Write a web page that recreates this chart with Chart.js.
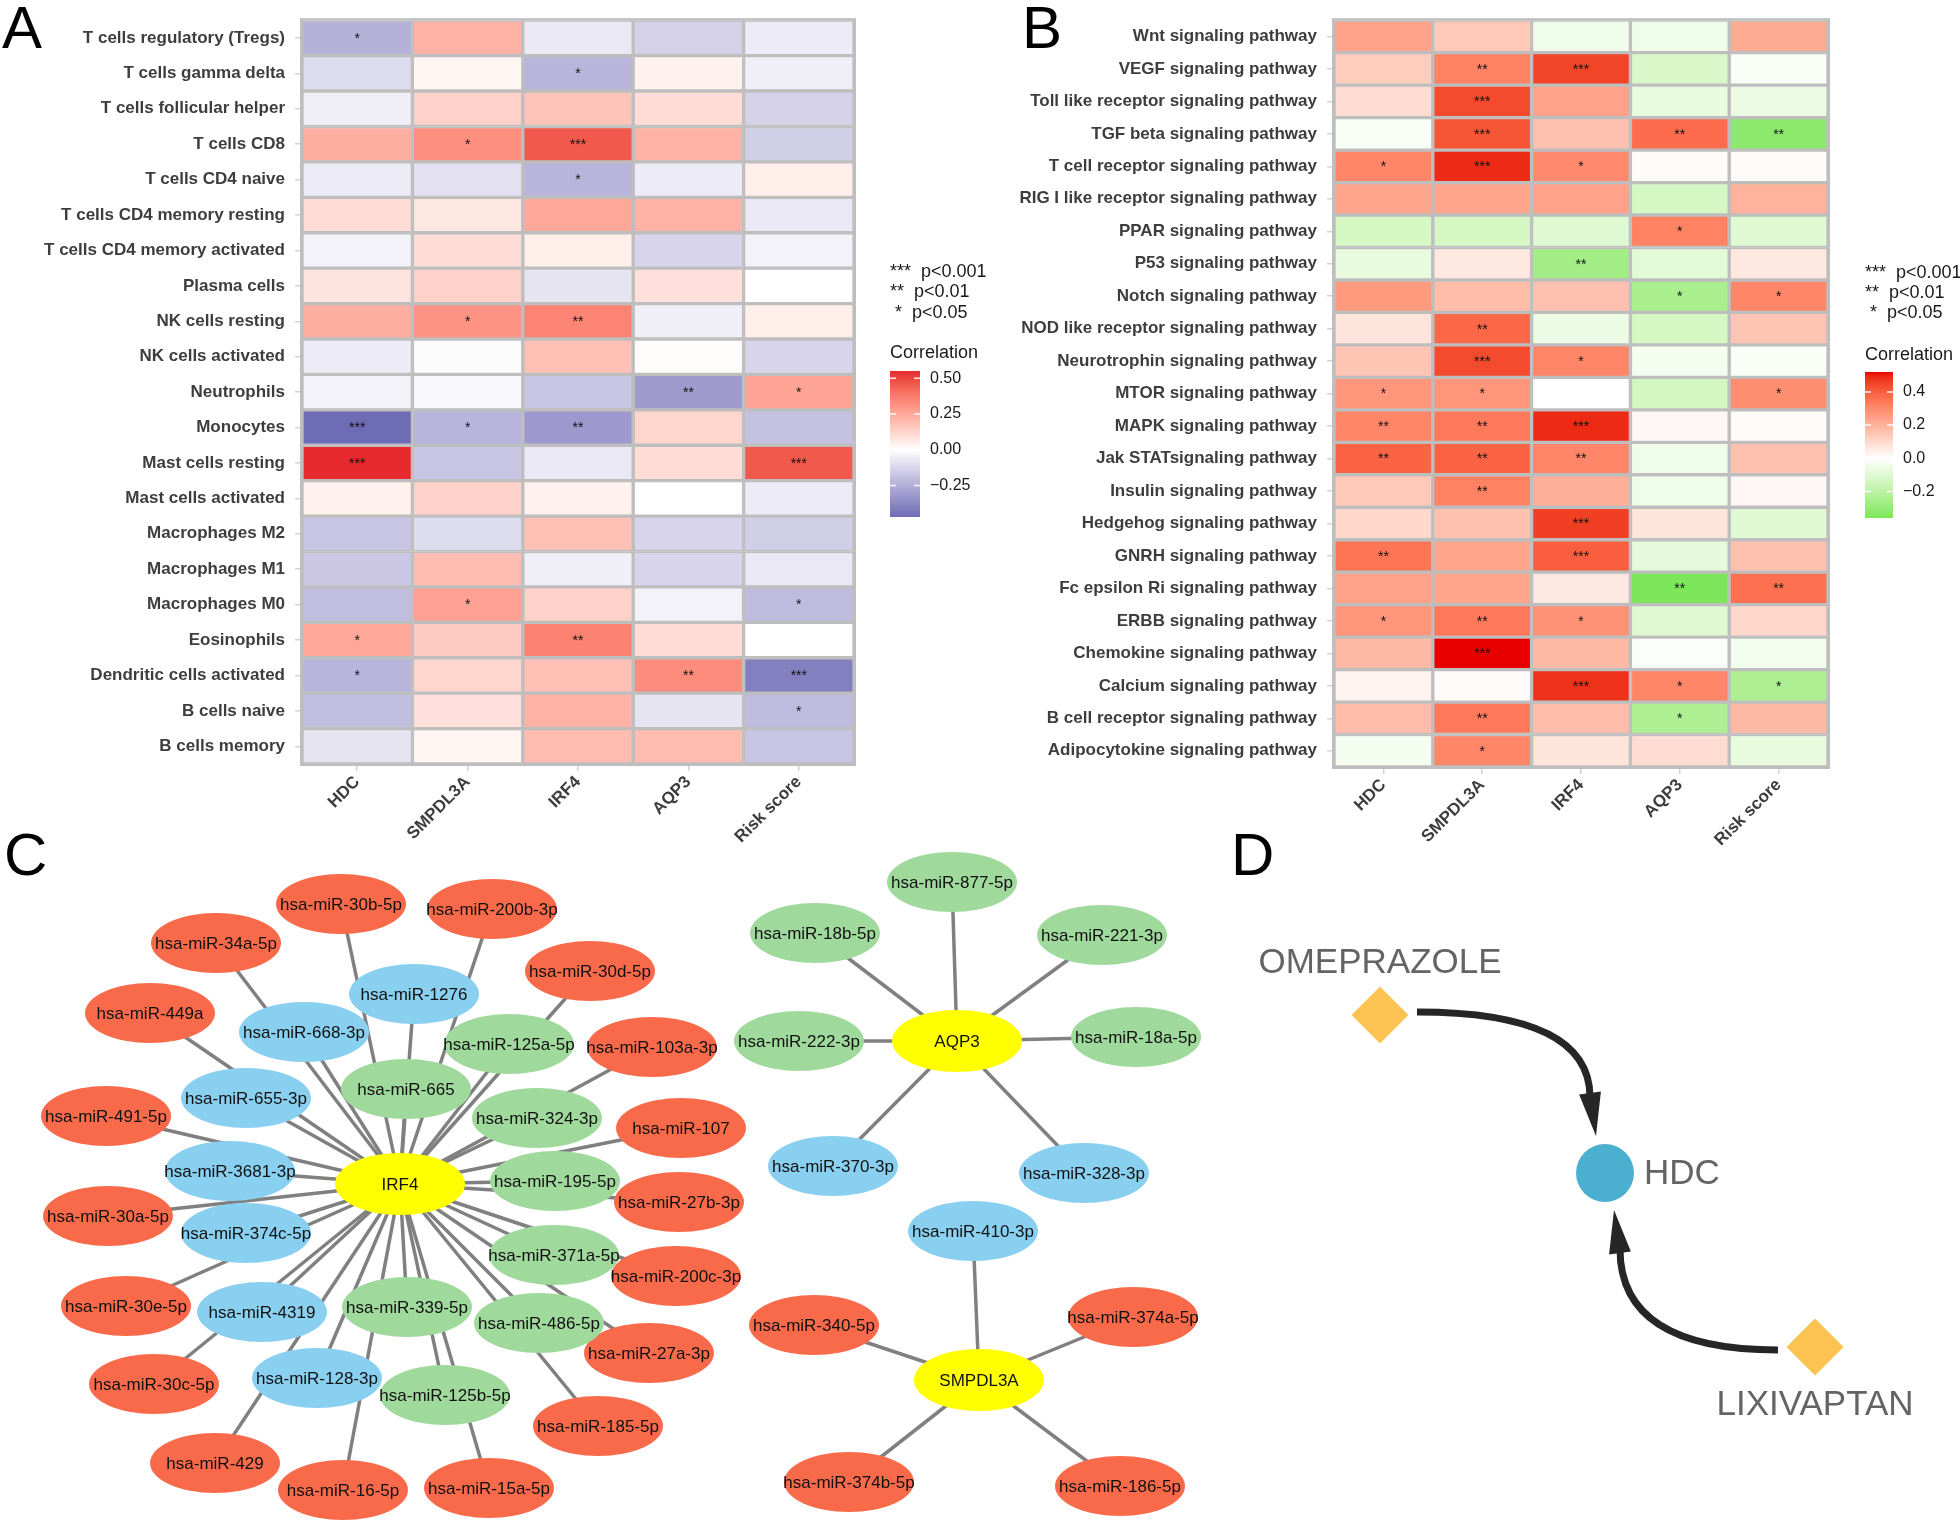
<!DOCTYPE html>
<html>
<head>
<meta charset="utf-8">
<title>Immune / pathway correlation and miRNA networks</title>
<script src="https://cdn.jsdelivr.net/npm/chart.js@4.4.1/dist/chart.umd.min.js"></script>
<style>
  html, body { margin: 0; padding: 0; background: #fff; }
  #page { position: relative; width: 1960px; height: 1527px; overflow: hidden; background: #fff; }
  canvas { position: absolute; }
</style>
</head>
<body>
<div id="page">
  <canvas id="chartA" width="1000" height="870" style="left:0;top:0"></canvas>
  <canvas id="chartB" width="960" height="870" style="left:1000px;top:0"></canvas>
  <canvas id="chartC" width="1230" height="707" style="left:0;top:820px"></canvas>
  <canvas id="chartD" width="730" height="707" style="left:1230px;top:820px"></canvas>
</div>
<script>
// ---- data: heatmap columns ----
const genes = ['HDC', 'SMPDL3A', 'IRF4', 'AQP3', 'Risk score'];

// Panel A: immune cells vs genes
const immuneCells = [
  'T cells regulatory (Tregs)', 'T cells gamma delta', 'T cells follicular helper', 'T cells CD8',
  'T cells CD4 naive', 'T cells CD4 memory resting', 'T cells CD4 memory activated', 'Plasma cells',
  'NK cells resting', 'NK cells activated', 'Neutrophils', 'Monocytes', 'Mast cells resting',
  'Mast cells activated', 'Macrophages M2', 'Macrophages M1', 'Macrophages M0', 'Eosinophils',
  'Dendritic cells activated', 'B cells naive', 'B cells memory'
];
const immuneCorr = [
  [-0.24, 0.22, -0.07, -0.14, -0.06],
  [-0.11, 0.03, -0.23, 0.04, -0.05],
  [-0.05, 0.13, 0.17, 0.10, -0.14],
  [0.23, 0.32, 0.46, 0.22, -0.15],
  [-0.06, -0.09, -0.23, -0.06, 0.05],
  [0.10, 0.07, 0.25, 0.22, -0.07],
  [-0.04, 0.10, 0.05, -0.13, -0.04],
  [0.08, 0.13, -0.08, 0.09, 0.00],
  [0.23, 0.31, 0.35, -0.05, 0.05],
  [-0.06, -0.01, 0.18, 0.01, -0.13],
  [-0.04, -0.02, -0.18, -0.31, 0.26],
  [-0.47, -0.23, -0.32, 0.12, -0.19],
  [0.55, -0.18, -0.07, 0.10, 0.46],
  [0.04, 0.13, 0.04, 0.00, -0.06],
  [-0.18, -0.11, 0.18, -0.13, -0.15],
  [-0.17, 0.19, -0.05, -0.13, -0.07],
  [-0.20, 0.27, 0.13, -0.04, -0.21],
  [0.25, 0.15, 0.36, 0.10, 0.00],
  [-0.23, 0.12, 0.18, 0.33, -0.40],
  [-0.20, 0.09, 0.22, -0.08, -0.21],
  [-0.08, 0.03, 0.19, 0.19, -0.18]
];
const immuneSig = [
  ['*', '', '', '', ''], ['', '', '*', '', ''], ['', '', '', '', ''], ['', '*', '***', '', ''],
  ['', '', '*', '', ''], ['', '', '', '', ''], ['', '', '', '', ''], ['', '', '', '', ''],
  ['', '*', '**', '', ''], ['', '', '', '', ''], ['', '', '', '**', '*'], ['***', '*', '**', '', ''],
  ['***', '', '', '', '***'], ['', '', '', '', ''], ['', '', '', '', ''], ['', '', '', '', ''],
  ['', '*', '', '', '*'], ['*', '', '**', '', ''], ['*', '', '', '**', '***'], ['', '', '', '', '*'],
  ['', '', '', '', '']
];
const immuneTicks = [0.5, 0.25, 0, -0.25];

// Panel B: KEGG pathways vs genes
const pathways = [
  'Wnt signaling pathway', 'VEGF signaling pathway', 'Toll like receptor signaling pathway',
  'TGF beta signaling pathway', 'T cell receptor signaling pathway', 'RIG I like receptor signaling pathway',
  'PPAR signaling pathway', 'P53 signaling pathway', 'Notch signaling pathway',
  'NOD like receptor signaling pathway', 'Neurotrophin signaling pathway', 'MTOR signaling pathway',
  'MAPK signaling pathway', 'Jak STATsignaling pathway', 'Insulin signaling pathway',
  'Hedgehog signaling pathway', 'GNRH signaling pathway', 'Fc epsilon Ri signaling pathway',
  'ERBB signaling pathway', 'Chemokine signaling pathway', 'Calcium signaling pathway',
  'B cell receptor signaling pathway', 'Adipocytokine signaling pathway'
];
const pathwayCorr = [
  [0.24, 0.14, -0.05, -0.05, 0.22],
  [0.13, 0.32, 0.45, -0.12, -0.02],
  [0.09, 0.44, 0.24, -0.07, -0.06],
  [-0.02, 0.42, 0.16, 0.37, -0.32],
  [0.31, 0.49, 0.30, 0.01, 0.01],
  [0.23, 0.23, 0.24, -0.13, 0.20],
  [-0.13, -0.13, -0.10, 0.32, -0.10],
  [-0.07, 0.06, -0.27, -0.09, 0.06],
  [0.26, 0.17, 0.16, -0.25, 0.31],
  [0.07, 0.38, -0.06, -0.13, 0.15],
  [0.15, 0.44, 0.31, -0.03, -0.02],
  [0.27, 0.27, 0.00, -0.14, 0.29],
  [0.31, 0.34, 0.49, 0.02, 0.01],
  [0.39, 0.39, 0.31, -0.05, 0.16],
  [0.14, 0.32, 0.21, -0.05, 0.02],
  [0.10, 0.16, 0.46, 0.07, -0.10],
  [0.35, 0.23, 0.40, -0.08, 0.16],
  [0.24, 0.23, 0.06, -0.36, 0.36],
  [0.27, 0.34, 0.28, -0.10, 0.10],
  [0.18, 0.52, 0.18, -0.01, -0.04],
  [0.03, 0.01, 0.48, 0.31, -0.24],
  [0.17, 0.34, 0.17, -0.24, 0.18],
  [-0.03, 0.31, 0.07, 0.09, -0.07]
];
const pathwaySig = [
  ['', '', '', '', ''], ['', '**', '***', '', ''], ['', '***', '', '', ''], ['', '***', '', '**', '**'],
  ['*', '***', '*', '', ''], ['', '', '', '', ''], ['', '', '', '*', ''], ['', '', '**', '', ''],
  ['', '', '', '*', '*'], ['', '**', '', '', ''], ['', '***', '*', '', ''], ['*', '*', '', '', '*'],
  ['**', '**', '***', '', ''], ['**', '**', '**', '', ''], ['', '**', '', '', ''], ['', '', '***', '', ''],
  ['**', '', '***', '', ''], ['', '', '', '**', '**'], ['*', '**', '*', '', ''], ['', '***', '', '', ''],
  ['', '', '***', '*', '*'], ['', '**', '', '*', ''], ['', '*', '', '', '']
];
const pathwayTicks = [0.4, 0.2, 0, -0.2];

// Panel C: miRNA - mRNA network (layout coordinates)
const hubNames = ['IRF4', 'AQP3', 'SMPDL3A'];
const hubX = [400, 957, 979];
const hubY = [1184, 1041, 1380];
const mirNames = [
  'hsa-miR-30b-5p', 'hsa-miR-200b-3p', 'hsa-miR-34a-5p', 'hsa-miR-30d-5p', 'hsa-miR-449a',
  'hsa-miR-103a-3p', 'hsa-miR-491-5p', 'hsa-miR-107', 'hsa-miR-30a-5p', 'hsa-miR-27b-3p',
  'hsa-miR-30e-5p', 'hsa-miR-200c-3p', 'hsa-miR-27a-3p', 'hsa-miR-30c-5p', 'hsa-miR-185-5p',
  'hsa-miR-429', 'hsa-miR-16-5p', 'hsa-miR-15a-5p',
  'hsa-miR-1276', 'hsa-miR-668-3p', 'hsa-miR-655-3p', 'hsa-miR-3681-3p', 'hsa-miR-374c-5p',
  'hsa-miR-4319', 'hsa-miR-128-3p',
  'hsa-miR-665', 'hsa-miR-125a-5p', 'hsa-miR-324-3p', 'hsa-miR-195-5p', 'hsa-miR-371a-5p',
  'hsa-miR-486-5p', 'hsa-miR-339-5p', 'hsa-miR-125b-5p',
  'hsa-miR-877-5p', 'hsa-miR-18b-5p', 'hsa-miR-221-3p', 'hsa-miR-222-3p', 'hsa-miR-18a-5p',
  'hsa-miR-370-3p', 'hsa-miR-328-3p',
  'hsa-miR-410-3p', 'hsa-miR-340-5p', 'hsa-miR-374a-5p', 'hsa-miR-374b-5p', 'hsa-miR-186-5p'
];
const mirHub = [
  0, 0, 0, 0, 0, 0, 0, 0, 0, 0, 0, 0, 0, 0, 0, 0, 0, 0,
  0, 0, 0, 0, 0, 0, 0,
  0, 0, 0, 0, 0, 0, 0, 0,
  1, 1, 1, 1, 1, 1, 1,
  2, 2, 2, 2, 2
];
const mirGroup = [
  0, 0, 0, 0, 0, 0, 0, 0, 0, 0, 0, 0, 0, 0, 0, 0, 0, 0,
  1, 1, 1, 1, 1, 1, 1,
  2, 2, 2, 2, 2, 2, 2, 2,
  2, 2, 2, 2, 2, 1, 1,
  1, 0, 0, 0, 0
];
const mirX = [
  341, 492, 216, 590, 150, 652, 106, 681, 108, 679, 126, 676, 649, 154, 598, 215, 343, 489,
  414, 304, 246, 230, 246, 262, 317,
  406, 509, 537, 555, 554, 539, 407, 445,
  952, 815, 1102, 799, 1136, 833, 1084,
  973, 814, 1133, 849, 1120
];
const mirY = [
  904, 909, 943, 971, 1013, 1047, 1116, 1128, 1216, 1202, 1306, 1276, 1353, 1384, 1426, 1463, 1490, 1488,
  994, 1032, 1098, 1171, 1233, 1312, 1378,
  1089, 1044, 1118, 1181, 1255, 1323, 1307, 1395,
  882, 933, 935, 1041, 1037, 1166, 1173,
  1231, 1325, 1317, 1482, 1486
];

// Panel D: drug - gene network
const drugNames = ['OMEPRAZOLE', 'LIXIVAPTAN'];
const drugX = [1380, 1815];
const drugY = [1015, 1347];
const targetNames = ['HDC'];
const targetX = [1605];
const targetY = [1173];

// ---- styling ----
const FONT = '"Liberation Sans", Arial, Helvetica, sans-serif';
Chart.defaults.font.family = FONT;
const groupFill = ['#F96A4B', '#89CFF0', '#A0D99C'];
const hubFill = '#FFFF00';
const sigLegend = ['***  p<0.001', '**  p<0.01', ' *  p<0.05'];

// colour helpers: ggplot-like gradient2 interpolated in CIELAB
function hexToRgb(h) {
  const n = parseInt(h.slice(1), 16);
  return [(n >> 16) & 255, (n >> 8) & 255, n & 255];
}
function rgbToLab(rgb) {
  const lin = c => { c /= 255; return c <= 0.04045 ? c / 12.92 : Math.pow((c + 0.055) / 1.055, 2.4); };
  const [r, g, b] = rgb.map(lin);
  const f = t => t > 0.008856 ? Math.cbrt(t) : 7.787 * t + 16 / 116;
  const X = f((r * 0.4124 + g * 0.3576 + b * 0.1805) / 0.95047);
  const Y = f(r * 0.2126 + g * 0.7152 + b * 0.0722);
  const Z = f((r * 0.0193 + g * 0.1192 + b * 0.9505) / 1.08883);
  return [116 * Y - 16, 500 * (X - Y), 200 * (Y - Z)];
}
function labToCss(lab) {
  const [L, a, bb] = lab;
  const fy = (L + 16) / 116, fx = a / 500 + fy, fz = fy - bb / 200;
  const inv = t => { const t3 = t * t * t; return t3 > 0.008856 ? t3 : (t - 16 / 116) / 7.787; };
  const X = inv(fx) * 0.95047, Y = inv(fy), Z = inv(fz) * 1.08883;
  const r = X * 3.2406 - Y * 1.5372 - Z * 0.4986;
  const g = -X * 0.9689 + Y * 1.8758 + Z * 0.0415;
  const b = X * 0.0557 - Y * 0.2040 + Z * 1.0570;
  const gam = c => {
    c = c > 0.0031308 ? 1.055 * Math.pow(c, 1 / 2.4) - 0.055 : 12.92 * c;
    return Math.round(Math.max(0, Math.min(1, c)) * 255);
  };
  return `rgb(${gam(r)},${gam(g)},${gam(b)})`;
}
function divergingScale(low, high, vmin, vmax) {
  const lo = rgbToLab(hexToRgb(low)), hi = rgbToLab(hexToRgb(high)), w = rgbToLab([255, 255, 255]);
  return v => {
    const end = v < 0 ? lo : hi;
    const t = Math.min(1, v < 0 ? v / vmin : v / vmax);
    return labToCss(w.map((c, k) => c + (end[k] - c) * t));
  };
}

function drawLetter(ctx, txt, x, y) {
  ctx.save();
  ctx.fillStyle = '#000';
  ctx.font = `60px ${FONT}`;
  ctx.textAlign = 'left';
  ctx.textBaseline = 'alphabetic';
  ctx.fillText(txt, x, y);
  ctx.restore();
}

// ---- heatmaps (panels A and B) ----
function buildHeatmap(id, rows, corr, sig, low, high, ticks, decimals, lay) {
  const el = document.getElementById(id);
  const all = corr.flat();
  const vmin = Math.min(...all), vmax = Math.max(...all);
  const colorOf = divergingScale(low, high, vmin, vmax);
  const axisFont = size => ({ family: FONT, size: size, weight: 'bold' });

  const decor = {
    id: 'decor' + id,
    afterDatasetsDraw(chart) {
      const ctx = chart.ctx, area = chart.chartArea;
      ctx.save();
      ctx.strokeStyle = '#BEBEBE';
      ctx.lineWidth = 2;
      ctx.strokeRect(area.left - 1, area.top - 1, area.right - area.left + 2, area.bottom - area.top + 2);
      ctx.fillStyle = '#111';
      ctx.font = `14px ${FONT}`;
      ctx.textAlign = 'center';
      ctx.textBaseline = 'middle';
      genes.forEach((g, j) => {
        chart.getDatasetMeta(j).data.forEach((bar, i) => {
          if (sig[i][j]) ctx.fillText(sig[i][j], (bar.x + bar.base) / 2, bar.y + 1);
        });
      });
      ctx.restore();
    },
    afterDraw(chart) {
      const ctx = chart.ctx, lg = lay.legend;
      ctx.save();
      ctx.fillStyle = '#1a1a1a';
      ctx.font = `18px ${FONT}`;
      ctx.textAlign = 'left';
      ctx.textBaseline = 'middle';
      sigLegend.forEach((t, k) => ctx.fillText(t, lg.x, lg.starsY[k]));
      ctx.fillText('Correlation', lg.x, lg.titleY);
      const span = lg.barBottom - lg.barTop;
      for (let y = lg.barTop; y < lg.barBottom; y++) {
        ctx.fillStyle = colorOf(vmax - (y + 0.5 - lg.barTop) / span * (vmax - vmin));
        ctx.fillRect(lg.x, y, lg.barW, 1);
      }
      ctx.font = `16px ${FONT}`;
      ticks.forEach(t => {
        const y = lg.barBottom - (t - vmin) / (vmax - vmin) * span;
        ctx.strokeStyle = 'rgba(255,255,255,0.9)';
        ctx.lineWidth = 1.5;
        ctx.beginPath();
        ctx.moveTo(lg.x, y); ctx.lineTo(lg.x + 6, y);
        ctx.moveTo(lg.x + lg.barW - 6, y); ctx.lineTo(lg.x + lg.barW, y);
        ctx.stroke();
        ctx.fillStyle = '#1a1a1a';
        ctx.fillText(t.toFixed(decimals).replace('-', '\u2212'), lg.x + lg.barW + 10, y);
      });
      ctx.restore();
      drawLetter(ctx, lay.letter, lay.letterX, 48);
    }
  };

  return new Chart(el, {
    type: 'bar',
    data: {
      labels: rows,
      datasets: genes.map((g, j) => ({
        label: g,
        data: rows.map(() => 1),
        backgroundColor: rows.map((r, i) => colorOf(corr[i][j])),
        borderColor: '#BEBEBE',
        borderWidth: 2,
        borderSkipped: false,
        barPercentage: 1,
        categoryPercentage: 1
      }))
    },
    options: {
      indexAxis: 'y',
      responsive: false,
      animation: false,
      events: [],
      layout: { autoPadding: false, padding: { top: lay.top, right: el.width - lay.right, left: 0, bottom: 0 } },
      plugins: { legend: { display: false }, tooltip: { enabled: false } },
      scales: {
        x: {
          stacked: true,
          min: 0,
          max: genes.length,
          afterBuildTicks: s => { s.ticks = genes.map((g, j) => ({ value: j + 0.5 })); },
          afterFit: s => { s.height = el.height - lay.bottom; },
          ticks: {
            autoSkip: false, minRotation: 45, maxRotation: 45, padding: 1,
            color: '#3d3d3d', font: axisFont(17),
            callback: (v, i) => genes[i]
          },
          grid: { drawOnChartArea: false, tickLength: 7, color: '#D3D3D3', lineWidth: 1.5 },
          border: { display: false }
        },
        y: {
          stacked: true,
          afterFit: s => { s.width = lay.left; },
          ticks: { autoSkip: false, padding: 10, color: '#3d3d3d', font: axisFont(17) },
          grid: { drawOnChartArea: false, offset: false, tickLength: 7, color: '#D3D3D3', lineWidth: 1.5 },
          border: { display: false }
        }
      }
    },
    plugins: [decor]
  });
}

buildHeatmap('chartA', immuneCells, immuneCorr, immuneSig, '#6E6CB5', '#E62A2D', immuneTicks, 2, {
  left: 302, right: 854, top: 15, bottom: 764, letter: 'A', letterX: 2,
  legend: { x: 890, starsY: [272, 292, 313], titleY: 353, barTop: 371, barBottom: 517, barW: 30 }
});
buildHeatmap('chartB', pathways, pathwayCorr, pathwaySig, '#7BE659', '#E80000', pathwayTicks, 1, {
  left: 334, right: 828, top: 15, bottom: 767, letter: 'B', letterX: 22,
  legend: { x: 865, starsY: [273, 293, 313], titleY: 355, barTop: 372, barBottom: 518, barW: 28 }
});

// ---- panel C: miRNA network ----
const nodeLabels = {
  id: 'nodeLabels',
  afterDatasetsDraw(chart) {
    const ctx = chart.ctx;
    const meta = chart.getDatasetMeta(chart.data.datasets.length - 1);
    const hubCount = hubNames.length;
    ctx.save();
    mirNames.forEach((n, i) => {
      const p = meta.data[hubCount + i];
      ctx.fillStyle = groupFill[mirGroup[i]];
      ctx.beginPath();
      ctx.ellipse(p.x, p.y, 65, 30, 0, 0, Math.PI * 2);
      ctx.fill();
    });
    hubNames.forEach((n, h) => {
      const p = meta.data[h];
      ctx.fillStyle = hubFill;
      ctx.beginPath();
      ctx.ellipse(p.x, p.y, 65, 31, 0, 0, Math.PI * 2);
      ctx.fill();
    });
    ctx.fillStyle = '#111';
    ctx.font = `17px ${FONT}`;
    ctx.textAlign = 'center';
    ctx.textBaseline = 'middle';
    hubNames.concat(mirNames).forEach((n, i) => {
      const p = meta.data[i];
      ctx.fillText(n, p.x, p.y + 1);
    });
    ctx.restore();
    drawLetter(ctx, 'C', 4, 55);
  }
};

new Chart(document.getElementById('chartC'), {
  type: 'scatter',
  data: {
    datasets: mirNames.map((n, i) => ({
      data: [{ x: hubX[mirHub[i]], y: hubY[mirHub[i]] }, { x: mirX[i], y: mirY[i] }],
      showLine: true,
      borderColor: '#808080',
      borderWidth: 3.5,
      pointRadius: 0,
      clip: false
    })).concat([{
      data: hubNames.map((n, h) => ({ x: hubX[h], y: hubY[h] }))
        .concat(mirNames.map((n, i) => ({ x: mirX[i], y: mirY[i] }))),
      pointRadius: 0,
      clip: false
    }])
  },
  options: {
    responsive: false,
    animation: false,
    events: [],
    layout: { autoPadding: false, padding: 0 },
    plugins: { legend: { display: false }, tooltip: { enabled: false } },
    scales: {
      x: { type: 'linear', display: false, min: 0, max: 1230 },
      y: { type: 'linear', display: false, min: 820, max: 1527, reverse: true }
    }
  },
  plugins: [nodeLabels]
});

// ---- panel D: drug - gene interactions ----
const drugArrows = {
  id: 'drugArrows',
  beforeDatasetsDraw(chart) {
    const ctx = chart.ctx;
    const drugs = chart.getDatasetMeta(0).data, tgt = chart.getDatasetMeta(1).data[0];
    ctx.save();
    ctx.strokeStyle = '#262626';
    ctx.fillStyle = '#262626';
    ctx.lineWidth = 7;
    drugs.forEach(s => {
      const sx = Math.sign(tgt.x - s.x), sy = Math.sign(tgt.y - s.y);
      const start = { x: s.x + sx * 37, y: s.y - sy * 3 };
      const tip = { x: tgt.x - sx * 9, y: tgt.y - sy * 37 };
      const base = { x: tip.x - sx * 6, y: tip.y - sy * 43 };
      ctx.beginPath();
      ctx.moveTo(start.x, start.y);
      ctx.quadraticCurveTo(base.x, start.y, base.x, base.y + sy * 4);
      ctx.stroke();
      const dx = tip.x - base.x, dy = tip.y - base.y, len = Math.hypot(dx, dy);
      const nx = -dy / len * 11, ny = dx / len * 11;
      ctx.beginPath();
      ctx.moveTo(tip.x, tip.y);
      ctx.lineTo(base.x + nx, base.y + ny);
      ctx.lineTo(base.x - nx, base.y - ny);
      ctx.closePath();
      ctx.fill();
    });
    ctx.restore();
  },
  afterDatasetsDraw(chart) {
    const ctx = chart.ctx;
    const drugs = chart.getDatasetMeta(0).data, tgts = chart.getDatasetMeta(1).data;
    ctx.save();
    ctx.fillStyle = '#646464';
    ctx.font = `35px ${FONT}`;
    ctx.textBaseline = 'middle';
    ctx.textAlign = 'center';
    drugs.forEach((p, i) => {
      ctx.fillText(drugNames[i], p.x, p.y + (i === 0 ? -52 : 58));
    });
    ctx.textAlign = 'left';
    tgts.forEach((p, i) => ctx.fillText(targetNames[i], p.x + 39, p.y + 1));
    ctx.restore();
    drawLetter(ctx, 'D', 1, 55);
  }
};

new Chart(document.getElementById('chartD'), {
  type: 'scatter',
  data: {
    datasets: [{
      data: drugNames.map((n, i) => ({ x: drugX[i], y: drugY[i] })),
      pointStyle: 'rectRot',
      pointRadius: 28.5,
      backgroundColor: '#FCC352',
      borderWidth: 0,
      clip: false
    }, {
      data: targetNames.map((n, i) => ({ x: targetX[i], y: targetY[i] })),
      pointStyle: 'circle',
      pointRadius: 29,
      backgroundColor: '#4BAFD0',
      borderWidth: 0,
      clip: false
    }]
  },
  options: {
    responsive: false,
    animation: false,
    events: [],
    layout: { autoPadding: false, padding: 0 },
    plugins: { legend: { display: false }, tooltip: { enabled: false } },
    scales: {
      x: { type: 'linear', display: false, min: 1230, max: 1960 },
      y: { type: 'linear', display: false, min: 820, max: 1527, reverse: true }
    }
  },
  plugins: [drugArrows]
});
</script>
</body>
</html>
